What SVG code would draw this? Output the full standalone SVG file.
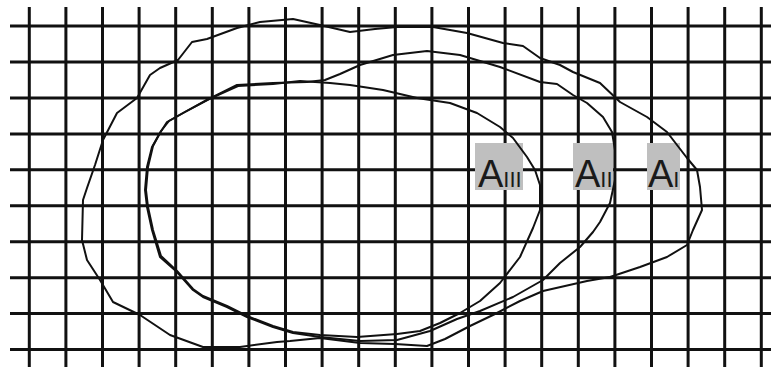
<svg xmlns="http://www.w3.org/2000/svg" width="771" height="367" viewBox="0 0 771 367">
<style>
.g{stroke:#111;stroke-width:3;fill:none}
.c{stroke:#111;stroke-width:2;fill:none;stroke-linejoin:round}
.b{fill:#bfbfbf}
.t{font-family:"Liberation Sans",Arial,sans-serif;fill:#1a1a1a}
</style>
<rect width="771" height="367" fill="#fff"/>
<g id="grid">
<path class="g" d="M29.3 7V367M65.9 7V367M102.5 7V367M139.1 7V367M175.7 7V367M212.3 7V367M248.9 7V367M285.5 7V367M322.1 7V367M358.7 7V367M395.3 7V367M431.9 7V367M468.5 7V367M505.1 7V367M541.7 7V367M578.3 7V367M614.9 7V367M651.5 7V367M688.1 7V367M724.7 7V367M761.3 7V367"/>
<path class="g" d="M10 26H771M10 62H771M10 97.9H771M10 133.9H771M10 169.8H771M10 205.8H771M10 241.7H771M10 277.7H771M10 313.6H771M10 349.6H771"/>
</g>
<g id="labels">
<g id="label-AIII"><rect class="b" x="475" y="143" width="48" height="47"/><text class="t" x="478" y="187" font-size="38">A<tspan font-size="22">III</tspan></text></g>
<g id="label-AII"><rect class="b" x="573" y="143" width="40" height="47"/><text class="t" x="575" y="187" font-size="38">A<tspan font-size="22">II</tspan></text></g>
<g id="label-AI"><rect class="b" x="647" y="143" width="33" height="47"/><text class="t" x="648" y="187" font-size="38">A<tspan font-size="22">I</tspan></text></g>
</g>
<g id="curves">
<polygon id="curve-AI" class="c" points="83,200 87,188 95,165 103,140 117,113 137,98 150,75 160,68 178,60 192,42 207,39 237,28 260,22 293,19 320,25 350,32 375,29 397,27 433,27 467,33 503,43 523,46 540,58 560,65 573,72 600,83 620,102 647,117 667,132 687,158 697,170 700,187 702,210 693,230 687,245 667,257 640,267 610,277 587,281 543,291 520,301 495,314 470,326 445,339 427,346 395,344 360,343 320,338 290,341 277,342 240,347 203,347 170,335 140,315 113,302 100,280 87,260 82,240"/>
<polygon id="curve-AII" class="c" points="145,190 147,167 152,147 160,133 167,122 183,113 207,100 237,85 273,83 307,82 325,80 340,74 360,65 393,55 427,51 460,55 500,67 540,82 557,84 573,95 587,103 603,117 612,132 615,150 615,180 610,203 600,222 593,232 580,247 560,263 543,280 513,297 480,311 457,319 430,331 397,340 360,341 320,337 293,333 273,327 247,317 227,307 203,297 193,290 177,272 160,257 152,230 147,207"/>
<polygon id="curve-AIII" class="c" points="146,190 148,167 153,146 161,131 169,121 185,112 209,99 238,86 273,84 300,81 330,83 350,85 383,90 417,98 450,103 477,113 500,127 513,138 527,157 535,170 540,185 540,210 533,228 520,257 500,283 480,301 460,313 440,323 420,331 397,334 357,337 320,335 293,332 273,326 247,316 227,306 203,296 193,289 177,271 161,256 153,230 148,207"/>
</g>
</svg>
